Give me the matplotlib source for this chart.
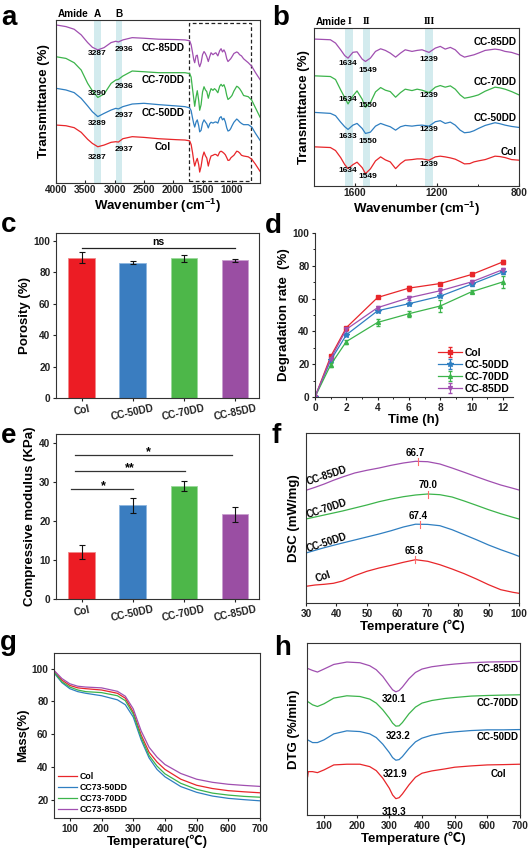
import matplotlib
matplotlib.use('Agg')
import matplotlib.pyplot as plt
import numpy as np
import matplotlib.transforms as mtransforms
from matplotlib.patches import Rectangle

plt.rcParams['font.family'] = ['Liberation Sans', 'Noto Sans CJK SC']
plt.rcParams['font.weight'] = 'bold'
plt.rcParams['axes.labelweight'] = 'bold'
plt.rcParams['mathtext.fontset'] = 'custom'
plt.rcParams['mathtext.rm'] = 'Liberation Sans:bold'
plt.rcParams['mathtext.bf'] = 'Liberation Sans:bold'
plt.rcParams['mathtext.default'] = 'bf'
plt.rcParams['axes.linewidth'] = 0.8
plt.rcParams['axes.edgecolor'] = '#333333'

# ---------------- data ----------------
samples = ['Col', 'CC-50DD', 'CC-70DD', 'CC-85DD']
colors = ['#e8262a', '#2f7fc1', '#3cb44b', '#a04fb0']
bar_colors = ['#ec1c24', '#3a7dc0', '#4db749', '#9a4ea3']

# FTIR (relative transmittance, baseline at 1800 cm-1 = 0)
ftir_wn_high = [4000, 3830, 3690, 3570, 3460, 3380, 3287, 3180, 3060, 2980, 2936, 2860, 2700, 2500, 2250, 1950]
ftir_wn_fp = [1800, 1720, 1695, 1670, 1650, 1634, 1610, 1590, 1565, 1549, 1525, 1500, 1475, 1452, 1428, 1402,
              1378, 1355, 1322, 1297, 1273, 1239, 1208, 1184, 1160, 1135, 1111, 1087, 1066, 1040, 1020, 998,
              965, 917, 893, 868, 836, 800, 720, 660, 600, 520]
ftir_col_high = [12.5, 11.9, 10.3, 6.4, 0.6, -2.8, -5.6, -4.2, -1.9, -1.4, -1.7, 1.1, 2.8, 2.2, 1.1, 0.3]
ftir_50_high = [15.3, 13.9, 11.7, 6.9, 0.6, -4.2, -8.3, -5.6, -2.8, -1.4, -1.9, 0, 2.2, 2.8, 1.7, 0.6]
ftir_70_high = [13.3, 11.9, 8.3, 2.2, -8.9, -15, -20.6, -17.8, -8.9, -6.1, -5.6, -2.8, 1.4, 0.8, 0, 0]
ftir_85_high = [12.5, 11.1, 8.9, 4.2, -2.2, -6.1, -8.3, -6.4, -2.2, -1.1, -1.7, 0, 1.9, 1.4, 0.6, 0.3]
ftir_col_fp = [0, -0.7, -3.7, -10.7, -17.7, -21.7, -17.7, -15.3, -20.7, -26.7, -22, -14, -10, -13, -15, -21.7,
               -16.7, -13.3, -12.7, -12, -12, -13.3, -10, -9.3, -10, -11, -12.3, -14.7, -17, -16.7, -15, -14,
               -12.7, -9.3, -9.7, -10.7, -12.7, -13.3, -14, -16, -20, -26]
ftir_50_fp = [0, -1, -3.3, -9.7, -14.3, -17, -12.7, -11, -16, -21, -19.7, -13.7, -11, -12.7, -14.3, -17.7,
              -14.3, -13, -13.7, -13, -12.7, -13.7, -9.3, -8.3, -11, -9.7, -12.7, -17.7, -20.3, -19.7, -18.3, -16,
              -13, -10.3, -11.3, -12.7, -14, -15, -15, -17, -22, -28]
ftir_70_fp = [0, -0.7, -3.7, -14, -21.7, -28, -20, -15, -23.3, -31.3, -26.7, -16, -11.7, -14.3, -15.7, -21.3,
              -16.7, -13.3, -14.7, -13.3, -14.3, -16.7, -11.3, -9.7, -11.3, -10, -13.3, -19, -22.3, -21.3, -20.3, -19,
              -15.3, -11.3, -12, -13.3, -15.7, -19, -20, -23, -29, -37]
ftir_85_fp = [0, -0.7, -4, -10.7, -16.5, -19, -13.2, -12.7, -20, -22.3, -19, -12.3, -9.7, -11.3, -14, -18,
              -14, -10.7, -12.3, -11.3, -10.7, -13.3, -9, -7.3, -10, -8.3, -10.7, -15.7, -18, -16.7, -15.7, -14,
              -11.3, -10, -10.7, -12.3, -13.3, -15.7, -19, -22, -27, -33]

ftir_peaks_a = [['3287', '2937'], ['3289', '2937'], ['3290', '2936'], ['3287', '2936']]
ftir_peaks_b = [['1634', '1549', '1239'], ['1633', '1550', '1239'], ['1634', '1550', '1239'], ['1634', '1549', '1239']]

# Porosity
poro = [89.2, 86.1, 88.8, 87.5]
poro_err = [3.4, 0.9, 2.2, 0.9]

# Degradation
deg_time = [0, 1, 2, 4, 6, 8, 10, 12]
deg_col = [0, 24.7, 42.3, 60.7, 66.4, 69.2, 74.7, 82.4]
deg_50 = [0, 22.3, 37.9, 52.6, 56.9, 61.5, 68.8, 76.3]
deg_70 = [0, 19.6, 33.8, 45.5, 50.8, 55.5, 64.2, 70.2]
deg_85 = [0, 23.3, 41.3, 54.5, 60.5, 64.8, 70.2, 77.7]
deg_col_err = [0, 0.8, 0.6, 0.6, 1.5, 0.6, 0.8, 1.0]
deg_50_err = [0, 0.8, 1.0, 0.8, 0.8, 0.8, 1.2, 1.5]
deg_70_err = [0, 1.2, 1.2, 2.0, 1.8, 3.5, 0.8, 3.5]
deg_85_err = [0, 0.8, 0.8, 1.0, 1.2, 1.5, 1.0, 0.8]

# Compressive modulus
modulus = [12.0, 24.0, 28.9, 21.7]
modulus_err = [1.7, 1.9, 1.3, 1.9]

# DSC
dsc_T = [30, 33, 36, 39, 42, 46, 50, 54, 58, 62, 66, 70, 74, 78, 82, 86, 90, 94, 98, 100]
dsc_col = [16.7, 18, 18.7, 19.7, 22, 27.3, 31.7, 35, 37.7, 40.7, 43.3, 41.7, 38.3, 34, 29.3, 24, 18.3, 13.3, 10.7, 9.7]
dsc_50 = [50, 52.7, 55.3, 57.7, 60, 63, 66, 69, 72.3, 76, 78.8, 78.6, 77.3, 73.3, 68.3, 63.3, 58, 53.3, 49, 46.7]
dsc_70 = [84, 86, 88, 90, 92, 95, 98, 101.3, 104, 106.3, 108, 109, 108.3, 106, 102, 97.7, 93.3, 89.3, 85.7, 84]
dsc_85 = [112.7, 115.7, 119, 122.7, 126, 130, 132.7, 135, 137.7, 140, 141.7, 141.3, 139, 135, 130.7, 126.3, 122, 118, 114.7, 113]
dsc_peaks = [65.8, 67.4, 70.0, 66.7]

# TGA
tga_T = [50, 75, 100, 125, 150, 200, 250, 275, 300, 325, 350, 375, 400, 450, 500, 550, 600, 650, 700]
tga_col = [98.5, 93, 89.8, 88.3, 87.8, 87, 85, 82, 73.5, 59.5, 49, 43, 38.5, 32.5, 28.8, 26.8, 25.5, 24.8, 24.2]
tga_50 = [97.5, 91.5, 87.8, 86, 85, 83.5, 81, 78, 70.5, 56.5, 45.5, 38.5, 34, 28, 24.5, 22.2, 20.8, 20, 19.3]
tga_70 = [98, 92, 88.8, 87, 86, 85.4, 83.5, 80.5, 72.3, 58, 47, 40.5, 35.8, 30, 26.3, 24, 22.8, 22, 21.5]
tga_85 = [99, 94, 90.8, 89.3, 88.8, 88.3, 86.2, 83.2, 75.5, 62, 52, 46, 41.5, 36, 32.5, 30.6, 29.4, 28.7, 28.1]
tga_labels = ['Col', 'CC73-50DD', 'CC73-70DD', 'CC73-85DD']

# DTG
dtg_T = [50, 65, 80, 100, 130, 170, 210, 240, 260, 280, 300, 310, 320, 330, 340, 360, 380, 400, 430, 470,
         500, 550, 600, 650, 700]
dtg_T_col = [50, 52, 65, 80, 100, 130, 170, 210, 240, 260, 280, 300, 310, 320, 330, 340, 360, 380, 400, 430, 470,
             500, 550, 600, 650, 700]
dtg_col = [38.3, 43.3, 43.3, 42.3, 45, 50, 50.7, 50.7, 48.3, 44.3, 36.7, 26.7, 20, 16.3, 17.3, 21, 30, 37.7,
           41.7, 44, 46, 47.7, 49, 50, 50.3, 50.7]
dtg_50 = [75, 72.3, 72.3, 75, 81, 84, 83.3, 81, 77.3, 70.7, 62.3, 57.3, 54.7, 55.3, 58.3, 66.3, 73, 76.7, 79.7,
          82, 83, 84.3, 85, 85, 85.3]
dtg_70 = [113.3, 110, 108.3, 111, 116.7, 119, 118.3, 115.7, 111.7, 105, 96.7, 91.7, 88.7, 89, 92.3, 101, 107.7,
          111.7, 114.3, 116.3, 117.3, 118.7, 119.3, 119.7, 120]
dtg_85 = [146.3, 144.3, 142.7, 145.7, 150.3, 152.7, 152, 149, 145, 138.3, 129.3, 125, 123, 124.3, 127.7, 136,
          142.3, 145.7, 148, 149.7, 150.7, 152, 152.7, 153, 153.3]
dtg_peaks = ['319.3', '321.9', '323.2', '320.1']

# ---------------- layout ----------------
W, H = 530, 852
fig = plt.figure(figsize=(W / 100, H / 100), dpi=100)

def px_axes(l, t, r, b):
    return fig.add_axes([l / W, 1 - b / H, (r - l) / W, (b - t) / H])

TICK = 7.3
LAB = 9.5
ANN = 6.0

def style(ax, direction='out'):
    ax.tick_params(labelsize=TICK, width=0.8, length=2.5, direction=direction, pad=1.5, colors='#222222')
    for lab in ax.get_xticklabels() + ax.get_yticklabels():
        lab.set_fontweight('bold')

def letter(x, y, s):
    fig.text(x / W, 1 - y / H, s, fontsize=20, fontweight='bold', ha='left', va='baseline')

# ---------------- a: FTIR full ----------------
ax = px_axes(56, 20, 260, 183)
wn_all = ftir_wn_high + ftir_wn_fp
ftir_all = [ftir_col_high + ftir_col_fp, ftir_50_high + ftir_50_fp,
            ftir_70_high + ftir_70_fp, ftir_85_high + ftir_85_fp]
off_a = [35.8, 63.6, 91.9, 119.2]
for band in [(3345, 3233), (2977, 2866)]:
    ax.axvspan(band[0], band[1], color='#d3ebee', lw=0, zorder=0)
for i in range(4):
    ax.plot(wn_all, np.array(ftir_all[i]) + off_a[i], color=colors[i], lw=0.9)
ax.set_xlim(4000, 520)
ax.set_ylim(0, 135.8)
ax.set_yticks([])
ax.set_xticks([4000, 3500, 3000, 2500, 2000, 1500, 1000])
trans = mtransforms.blended_transform_factory(ax.transData, ax.transAxes)
ax.add_patch(Rectangle((1730, 0.01), 670 - 1730, 0.97, transform=trans, fill=False,
                       ls=(0, (3, 2)), lw=0.9, ec='#222222'))
ax.set_xlabel('Wavenumber (cm$^{-1}$)', fontsize=LAB, labelpad=1)
ax.set_ylabel('Transmittance (%)', fontsize=LAB, labelpad=4)
style(ax, 'in')
pk_y_a = [(21.4, 27.5), (49.2, 56.1), (74.2, 80.8), (107.5, 111.4)]
lab_y_a = [30.3, 58, 85.8, 112.2]
for i in range(4):
    ax.text(3290, pk_y_a[i][0], ftir_peaks_a[i][0], fontsize=ANN, ha='center', va='center')
    ax.text(2835, pk_y_a[i][1], ftir_peaks_a[i][1], fontsize=ANN, ha='center', va='center')
    ax.text(2180, lab_y_a[i], samples[i], fontsize=7.2, ha='center', va='center')
ax.text(3440, 140.8, 'Amide', fontsize=7.2, ha='right', va='center', clip_on=False)
ax.text(3290, 140.8, 'A', fontsize=7.2, ha='center', va='center', clip_on=False)
ax.text(2925, 140.8, 'B', fontsize=7.2, ha='center', va='center', clip_on=False)
letter(1, 25, 'a')

# ---------------- b: FTIR fingerprint ----------------
ax = px_axes(314, 28, 519, 186)
off_b = [39, 73.3, 109.7, 146.3]
for band in [(1649, 1610), (1561, 1527), (1257, 1220)]:
    ax.axvspan(band[0], band[1], color='#d3ebee', lw=0, zorder=0)
for i in range(4):
    ax.plot(wn_all, np.array(ftir_all[i]) + off_b[i], color=colors[i], lw=0.9)
ax.set_xlim(1800, 800)
ax.set_ylim(0, 157.3)
ax.set_yticks([])
ax.set_xticks([1600, 1200, 800])
ax.set_xticks([1400, 1000], minor=True)
ax.tick_params(which='minor', length=1.5, width=0.6, direction='in')
ax.set_xlabel('Wavenumber (cm$^{-1}$)', fontsize=LAB, labelpad=1)
ax.set_ylabel('Transmittance (%)', fontsize=LAB, labelpad=3)
style(ax, 'in')
pk_y_b = [(15, 9, 21.7), (49.7, 44, 56.3), (85.7, 79.7, 89.7), (121.7, 115, 125.7)]
lab_y_b = [34, 68, 104, 143]
for i in range(4):
    ax.text(1637, pk_y_b[i][0], ftir_peaks_b[i][0], fontsize=ANN, ha='center', va='center')
    ax.text(1540, pk_y_b[i][1], ftir_peaks_b[i][1], fontsize=ANN, ha='center', va='center')
    ax.text(1241, pk_y_b[i][2], ftir_peaks_b[i][2], fontsize=ANN, ha='center', va='center')
    ax.text(811, lab_y_b[i], samples[i], fontsize=7.2, ha='right', va='center')
ax.text(1792, 163.5, 'Amide', fontsize=7.2, ha='left', va='center', clip_on=False)
for xx, s in [(1626, 'I'), (1545, 'II'), (1239, 'III')]:
    ax.text(xx, 163.5, s, fontsize=7.2, ha='center', va='center', clip_on=False,
            family=['Liberation Serif'])
letter(272, 25, 'b')

# ---------------- c: Porosity ----------------
ax = px_axes(56, 233, 259, 398)
x = np.arange(4)
ax.bar(x, poro, width=0.52, color=bar_colors, edgecolor=['#f08a8a', '#8db6e0', '#9ad99a', '#c9a0cf'], lw=0.6)
ax.errorbar(x, poro, yerr=poro_err, fmt='none', ecolor='#111111', elinewidth=0.8, capsize=2, capthick=0.8)
ax.set_xlim(-0.5, 3.47)
ax.set_ylim(0, 104.9)
ax.set_yticks([0, 20, 40, 60, 80, 100])
ax.set_xticks(x)
ax.set_xticklabels(samples, rotation=12)
ax.plot([0, 3], [95.5, 95.5], color='#222222', lw=0.9)
ax.text(1.5, 96.3, 'ns', fontsize=7.5, ha='center', va='bottom')
ax.set_ylabel('Porosity (%)', fontsize=LAB, labelpad=2)
style(ax)
letter(1, 232, 'c')

# ---------------- d: Degradation ----------------
ax = px_axes(315, 233, 513, 397)
deg_sets = [(deg_col, deg_col_err, 's', 2.8), (deg_50, deg_50_err, '*', 4),
            (deg_70, deg_70_err, '^', 2.8), (deg_85, deg_85_err, 'v', 2.8)]
for i, (vals, err, mk, ms) in enumerate(deg_sets):
    ax.errorbar(deg_time, vals, yerr=err, color=colors[i], marker=mk, ms=ms, lw=0.9,
                elinewidth=0.8, capsize=1.5, label=samples[i])
ax.set_xlim(0, 12.64)
ax.set_ylim(0, 100)
ax.set_xticks([0, 2, 4, 6, 8, 10, 12])
ax.set_yticks([0, 20, 40, 60, 80, 100])
ax.set_xticks([1, 3, 5, 7, 9, 11], minor=True)
ax.set_yticks([10, 30, 50, 70, 90], minor=True)
ax.tick_params(which='minor', length=1.5, width=0.6, direction='out')
ax.spines['top'].set_visible(False)
ax.spines['right'].set_visible(False)
ax.set_xlabel('Time (h)', fontsize=LAB, labelpad=1)
ax.set_ylabel('Degradation rate  (%)', fontsize=LAB, labelpad=2)
style(ax)
leg = ax.legend(loc='lower right', frameon=False, fontsize=7.5, handlelength=2.3, handletextpad=0.3,
                labelspacing=0.2, borderaxespad=0.1, borderpad=0.2)
for t in leg.get_texts():
    t.set_fontweight('bold')
letter(265, 233, 'd')

# ---------------- e: Compressive modulus ----------------
ax = px_axes(56, 434, 259, 599)
ax.bar(x, modulus, width=0.52, color=bar_colors, edgecolor=['#f08a8a', '#8db6e0', '#9ad99a', '#c9a0cf'], lw=0.6)
ax.errorbar(x, modulus, yerr=modulus_err, fmt='none', ecolor='#111111', elinewidth=0.8, capsize=2, capthick=0.8)
ax.set_xlim(-0.5, 3.47)
ax.set_ylim(0, 42.2)
ax.set_yticks([0, 10, 20, 30, 40])
ax.set_xticks(x)
ax.set_xticklabels(samples, rotation=12)
for (x0, x1, yy, s, xs) in [(-0.2, 1.0, 28.2, '*', 0.42), (-0.13, 2.02, 32.8, '**', 0.95), (-0.13, 2.94, 36.9, '*', 1.31)]:
    ax.plot([x0, x1], [yy, yy], color='#333333', lw=0.9)
    ax.text(xs, yy - 0.9, s, fontsize=9, ha='center', va='bottom')
ax.set_ylabel('Compressive modulus (KPa)', fontsize=LAB, labelpad=2)
style(ax)
letter(1, 443, 'e')

# ---------------- f: DSC ----------------
ax = px_axes(306, 433, 519, 603)
dsc_sets = [dsc_col, dsc_50, dsc_70, dsc_85]
for i in range(4):
    ax.plot(dsc_T, dsc_sets[i], color=colors[i], lw=0.9)
    py = np.interp(dsc_peaks[i], dsc_T, dsc_sets[i])
    ax.plot([dsc_peaks[i], dsc_peaks[i]], [py - 3.5, py + 3.5], color='#ff6b6b', lw=0.8)
ax.set_xlim(30, 100)
ax.set_ylim(0, 170)
ax.set_yticks([])
ax.set_xticks([30, 40, 50, 60, 70, 80, 90, 100])
dsc_lab = [(65.5, 52.3), (66.9, 87.3), (70.2, 117.7), (65.8, 150)]
for i in range(4):
    ax.text(dsc_lab[i][0], dsc_lab[i][1], '%.1f' % dsc_peaks[i], fontsize=7, ha='center', va='center')
curve_lab = [(35.7, 26), (36.8, 60.7), (36.8, 94.3), (36.8, 127.3)]
for i in range(4):
    ax.text(curve_lab[i][0], curve_lab[i][1], samples[i], fontsize=7, ha='center', va='center', rotation=18)
ax.set_xlabel('Temperature (℃)', fontsize=LAB, labelpad=1)
ax.set_ylabel('DSC (mW/mg)', fontsize=LAB, labelpad=4)
style(ax)
letter(271, 443, 'f')

# ---------------- g: TGA ----------------
ax = px_axes(54, 653, 260, 818)
tga_sets = [tga_col, tga_50, tga_70, tga_85]
for i in range(4):
    ax.plot(tga_T, tga_sets[i], color=colors[i], lw=0.9, label=tga_labels[i])
ax.set_xlim(50, 700)
ax.set_ylim(8.8, 109.6)
ax.set_xticks([100, 200, 300, 400, 500, 600, 700])
ax.set_yticks([20, 40, 60, 80, 100])
ax.set_xlabel('Temperature(℃)', fontsize=LAB, labelpad=1)
ax.set_ylabel('Mass(%)', fontsize=LAB, labelpad=2)
style(ax)
leg = ax.legend(loc='lower left', frameon=False, fontsize=6.3, handlelength=2.2, handletextpad=0.3,
                labelspacing=0.25, borderaxespad=0.2, borderpad=0.2)
for t in leg.get_texts():
    t.set_fontweight('bold')
letter(0, 650, 'g')

# ---------------- h: DTG ----------------
ax = px_axes(307, 643, 520, 815)
ax.plot(dtg_T_col, dtg_col, color=colors[0], lw=0.9)
for i, vals in enumerate([dtg_50, dtg_70, dtg_85]):
    ax.plot(dtg_T, vals, color=colors[i + 1], lw=0.9)
ax.set_xlim(48, 700)
ax.set_ylim(0, 171.7)
ax.set_yticks([])
ax.set_xticks([100, 200, 300, 400, 500, 600, 700])
dtg_lab = [(314.7, 3.3), (318.8, 41), (327, 79), (314.7, 115.7)]
for i in range(4):
    ax.text(dtg_lab[i][0], dtg_lab[i][1], dtg_peaks[i], fontsize=7, ha='center', va='center')
side_lab = [(659, 41), (697, 77.7), (697, 111.7), (697, 146)]
for i in range(4):
    ax.text(side_lab[i][0], side_lab[i][1], samples[i], fontsize=7, ha='right', va='center')
ax.set_xlabel('Temperature (℃)', fontsize=LAB, labelpad=1)
ax.set_ylabel('DTG (%/min)', fontsize=LAB, labelpad=5)
style(ax)
letter(274, 655, 'h')

fig.savefig('out.png', dpi=100)
